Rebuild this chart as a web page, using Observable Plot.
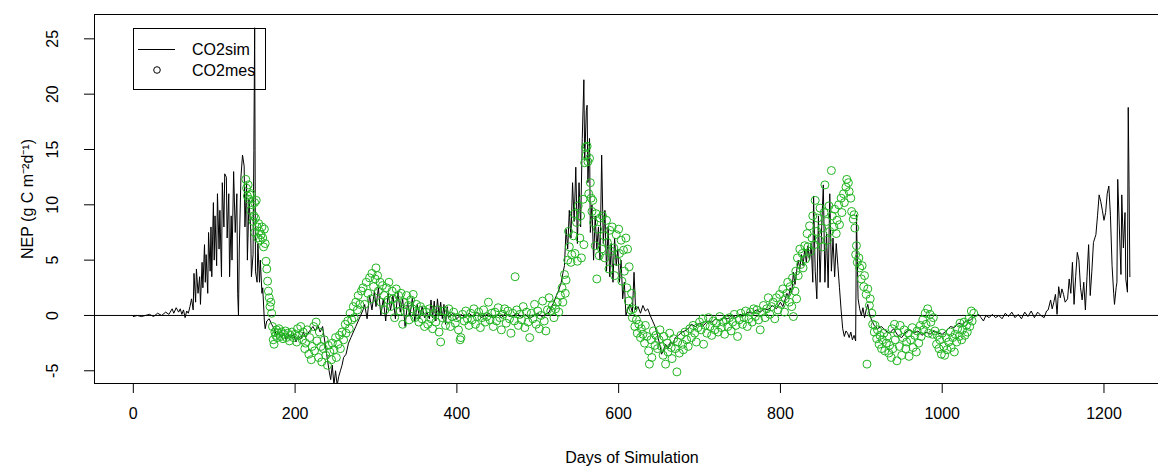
<!DOCTYPE html>
<html><head><meta charset="utf-8">
<script src="https://cdn.jsdelivr.net/npm/d3@7"></script>
<script src="https://cdn.jsdelivr.net/npm/@observablehq/plot@0.6"></script>
<style>
html,body{margin:0;padding:0;background:#fff;overflow:hidden;width:1158px;height:466px;}
#wrap{position:relative;width:1170px;height:466px;}
</style></head><body><div id="wrap"></div>
<script>
// Simulated NEP (CO2sim): [day, value]
const co2sim = [[0,-0.1],[5,0],[10,-0.1],[15,0],[20,0.1],[25,-0.1],[30,0.2],[35,0],[40,0.3],[44,0.1],[48,0.6],[50,0.2],[53,0.7],[56,0.3],[58,0.6],[60,0.1],[62,0.5],[64,-0.2],[66,0.4],[68,0.2],[70,0.8],
[72,1.5],[74,0.5],[75,3.8],[77,1.2],[78,4.2],[80,2.0],[82,3.5],[83,1.0],[85,4.8],[86,2.5],[88,6.4],[89,3.0],[90,5.5],[92,2.0],[93,7.5],[95,4.0],[96,8.0],[97,3.5],[99,10.2],[100,5.0],[101,9.0],[103,4.5],[104,11.0],[106,6.0],[107,9.5],[109,3.5],[110,12.0],[112,8.0],[113,12.8],[115,12.5],[116,7.0],[118,11.0],[119,3.5],[121,9.0],[122,5.0],[124,13.0],[126,7.5],[128,11.0],[129,2.0],[130,0.0],[131,6.0],[133,12.5],[135,14.5],[137,13.5],[138,8.0],[140,12.0],[141,5.0],[143,10.5],[145,8.0],[146,3.5],[148,5.5],[149,14.9],[150,26.0],[151,4.0],[153,3.0],[154,6.5],[156,3.0],[157,5.0],[159,2.0],[160,2.5],[162,-0.5],[163,-1.2],[165,-0.5],[168,-0.3],[171,-0.8],[174,-1.2],[177,-1.8],[180,-1.5],[183,-2.0],[186,-1.6],[189,-2.2],[192,-1.8],[195,-2.0],[198,-1.7],[201,-2.4],[204,-1.9],[207,-2.1],[210,-1.5],[213,-2.0],[216,-1.6],[219,-1.3],[222,-1.0],[225,-1.4],[228,-0.9],[231,-1.5],[234,-1.0],[237,-2.5],[240,-4.0],[242,-5.0],[244,-5.8],[246,-4.5],[248,-6.3],[250,-5.0],[252,-6.3],[254,-5.5],[256,-5.0],[258,-4.5],[260,-3.8],[263,-3.5],[266,-2.5],[269,-2.0],[272,-1.5],[275,-1.0],[278,-0.5],[281,0.0],[284,0.5],
[286,1.0],[289,-0.3],[292,1.8],[295,0.5],[298,2.2],[300,0.8],[303,2.5],[306,0.0],[309,1.5],[312,-0.5],[315,2.0],[318,0.5],[321,1.8],[324,-0.3],[327,2.2],[330,0.3],[333,1.5],[336,-1.0],[339,1.2],[342,0.0],[345,1.6],[348,-0.5],[351,1.0],[354,-0.3],[357,0.8],[360,-0.2],
[363,0.3],[366,-0.3],[368,1.4],[370,-0.2],[372,1.3],[374,-0.5],[376,1.5],[378,0.0],[380,1.2],[382,-0.3],[384,1.0],[386,-0.8],[388,0.8],[390,-0.2],[395,0.2],[400,-0.3],[405,0.1],[410,-0.2],[415,0.2],[420,-0.1],[425,0.3],[430,-0.2],[435,0.0],[440,0.2],[445,-0.3],[450,0.1],[455,-0.2],[460,0.2],[465,-0.1],[470,0.0],[475,0.2],[480,-0.2],[485,0.1],[490,-0.3],[495,0.0],[500,0.2],[505,-0.1],[510,0.1],
[514,0.3],[517,0.8],[520,1.2],[523,1.8],[526,2.3],[529,3.0],[531,3.8],[533,4.5],[535,7.8],[537,6.0],[539,9.5],[541,7.0],[543,12.0],[545,8.5],[547,13.4],[549,6.5],[551,12.0],[553,8.0],[555,16.0],[557,21.3],[558,14.0],[560,18.5],[561,19.0],[562,12.0],[564,16.0],[565,7.5],[567,10.0],[569,5.0],[571,9.0],[573,6.0],[575,8.0],[577,5.0],[579,14.5],[581,6.5],[583,9.5],[585,4.0],[587,8.0],[589,3.5],[591,6.5],[593,3.0],[595,7.0],[597,4.5],[599,6.0],[601,3.0],[603,5.0],[605,1.5],[607,3.0],[609,0.0],
[611,0.5],[614,1.0],[617,0.3],[619,3.9],[621,0.5],[624,0.8],[627,0.2],[630,0.9],[633,0.4],[636,0.6],[639,0.0],[642,-0.5],[645,-1.0],[648,-1.8],[651,-2.7],[653,-3.5],[655,-3.2],[658,-2.6],[661,-3.0],[664,-2.4],[667,-2.6],[670,-2.0],[674,-1.8],[678,-1.5],[682,-1.4],[686,-1.2],[690,-0.8],
[695,-1.0],[700,-0.7],[705,-0.9],[710,-0.5],[715,-0.6],[720,-0.3],[725,-0.5],[730,-0.2],[735,-0.3],[740,0.0],[745,-0.2],[750,0.1],[755,0.0],[760,0.3],[765,0.2],[770,0.5],[775,0.3],[780,0.6],[785,0.5],[790,0.9],[795,0.6],[800,1.2],[803,0.8],[806,1.5],
[808,2.0],[810,1.6],[812,2.5],[814,2.0],[816,3.9],[818,2.8],[820,4.0],[822,5.0],[824,4.2],[826,5.5],[828,4.5],[830,6.0],[832,4.8],[834,6.3],[836,5.0],[838,6.5],[840,3.0],[841,10.8],[843,4.0],[845,1.5],[847,9.0],[849,3.0],[851,8.0],[853,11.8],[855,3.0],[857,7.5],[859,2.5],[861,11.0],[863,4.0],[865,7.0],[867,3.5],[869,6.5],[871,4.5],[873,2.5],[875,0.5],[877,-1.2],[879,-1.9],[881,-1.4],[883,-1.6],[885,-2.0],[887,-1.5],[889,-2.2],[891,-1.8],[893,-2.3],[894,9.1],[896,1.5],[898,0.6],[900,0.0],[902,0.7],[904,-0.2],[906,0.5],[908,1.0],[910,0.2],[913,-0.5],[916,-0.9],[920,-1.2],[925,-1.0],[930,-1.4],[935,-1.6],[940,-1.2],
[945,-1.8],[950,-2.0],[955,-1.5],[960,-1.3],[965,-1.6],[970,-1.4],[975,-1.8],[980,-1.5],[985,-1.7],[990,-1.4],[995,-1.6],[1000,-1.7],[1005,-1.4],[1010,-1.0],[1015,-1.1],[1020,-0.7],[1025,-0.8],[1030,-0.5],[1035,-0.4],[1040,-0.1],
[1045,0.1],[1048,-0.2],[1051,-0.5],[1054,0.0],[1058,-0.2],[1062,0.1],[1066,-0.2],[1070,0.0],[1074,-0.3],[1078,0.2],[1082,-0.1],[1086,0.3],[1090,-0.2],[1094,0.1],[1098,-0.3],[1102,0.3],[1106,-0.1],[1110,0.4],[1114,-0.2],[1118,0.3],[1122,0.0],[1126,-0.2],[1129,0.4],
[1131,0.5],[1134,1.4],[1136,0.6],[1138,1.2],[1140,1.9],[1142,0.1],[1144,2.6],[1146,1.6],[1148,2.4],[1150,1.9],[1152,1.2],[1155,1.5],[1157,3.3],[1159,2.0],[1161,4.8],[1163,1.0],[1165,3.5],[1167,5.7],[1169,5.0],[1171,2.5],[1173,1.4],[1175,3.0],[1177,0.5],[1179,3.5],[1181,6.4],[1183,1.8],[1185,4.0],[1187,6.6],[1190,7.3],[1192,9.0],[1194,10.9],[1196,10.3],[1198,9.5],[1200,8.6],[1202,9.3],[1204,11.0],[1206,11.7],[1208,9.0],[1210,4.5],[1212,2.0],[1213,1.0],[1215,2.5],[1216,3.0],[1217,12.3],[1219,7.9],[1221,3.7],[1222,10.9],[1224,6.1],[1226,9.3],[1227,3.3],[1229,2.1],[1230,18.8],[1231,11.8],[1232,3.5]];

// Measured NEP (CO2mes): [day, value]
const co2mes = [[139,12.3],[140,11.5],[141,10.8],[142,11.8],[143,10.5],[144,10.9],[145,9.5],[146,11.0],[147,10.0],[148,8.5],[149,9.0],[150,10.2],[150,7.5],[151,8.8],[152,10.4],[153,8.0],[154,7.0],[155,8.3],[156,7.6],[157,6.8],[158,7.3],[159,8.0],[160,7.0],[161,6.2],[162,7.8],[163,6.5],[164,4.9],[165,4.2],[166,3.1],[167,2.2],[168,1.6],[169,0.8],[170,1.2],[171,0.2],
[172,-1.0],[173,-2.2],[174,-2.6],[175,-1.5],[176,-1.8],[177,-1.3],[178,-2.0],[179,-1.6],[180,-1.2],[182,-1.9],[183,-1.5],[185,-2.1],[186,-1.7],[188,-1.4],[189,-2.0],[191,-1.6],[193,-2.3],[194,-1.8],[196,-1.5],[198,-2.0],[200,-1.7],[202,-2.4],[203,-1.2],[205,-1.8],[207,-1.0],[209,-2.2],[210,-1.5],[212,-3.0],[213,-2.5],[215,-1.3],[217,-3.5],[218,-2.0],[220,-4.0],[221,-2.8],[223,-1.0],[224,-3.2],[226,-0.6],[227,-2.3],[229,-3.8],[230,-1.5],[232,-2.8],[233,-4.2],[235,-3.0],[236,-2.2],[238,-3.6],[240,-4.5],[241,-2.7],[243,-3.3],[245,-4.0],[246,-2.5],[248,-3.1],[250,-2.0],[251,-3.8],[253,-2.6],[255,-1.8],[256,-3.0],[258,-1.5],[260,-2.2],[262,-0.8],[263,-1.6],[265,-0.5],[267,-1.2],[268,0.2],[270,-0.4],[272,0.8],[273,-0.2],[275,1.2],[277,0.5],[278,1.8],[280,1.0],[282,2.2],
[284,2.5],[286,1.0],[288,3.0],[290,2.0],[292,3.4],[294,1.5],[295,3.8],[297,2.6],[299,3.3],[300,4.3],[302,3.6],[303,2.2],[305,3.0],[306,1.2],[308,2.7],[310,1.8],[311,0.5],[313,2.5],[315,1.4],[316,3.0],[318,0.8],[320,2.2],[321,1.5],[323,-0.2],[325,2.4],[326,1.0],[328,1.8],[330,0.4],[331,2.0],[333,-0.8],[335,1.2],[336,0.3],[338,1.8],[340,0.9],[341,-0.4],[343,1.4],[345,0.6],[346,1.9],[348,-0.2],[350,1.0],[351,0.2],[353,-0.6],[355,0.8],[357,-0.3],[358,0.5],[360,-1.0],
[362,0.3],[364,-0.8],[366,0.6],[368,-0.3],[370,-1.2],[372,0.2],[374,-0.6],[376,0.5],[378,-1.5],[380,-2.4],[382,-0.2],[384,0.4],[386,-0.9],[388,-0.3],[390,0.6],[392,-1.0],[394,-0.1],[396,0.3],[398,-0.7],[400,-0.2],[402,-1.3],[404,-2.2],[405,-2.0],[407,0.1],[409,-0.5],[411,0.4],[413,-0.3],[415,-0.9],[417,0.2],[419,-0.4],[421,0.6],[423,-0.8],[425,-0.1],[427,0.3],[429,-1.1],[431,-0.2],[433,0.5],[435,-0.6],[437,-0.1],[439,1.2],[441,-0.4],[443,0.2],[445,-1.0],[447,0.3],[449,-0.5],[451,0.7],[453,-0.2],[455,-1.3],[457,0.1],[459,0.6],[461,-0.7],[463,0.4],[465,-0.3],[467,-1.6],[469,0.2],[471,-0.5],[472,3.5],[474,0.5],[476,-0.9],[478,0.1],[480,-0.4],[482,0.8],[484,-1.1],[486,0.3],[488,-0.6],[490,-2.0],[492,0.2],[494,-0.3],[496,1.0],[498,-0.8],[500,0.4],[502,-1.2],[504,0.0],[506,1.3],[508,-0.5],[510,-1.4],[512,0.5],
[514,1.6],[516,0.4],[518,0.9],[520,-0.2],[522,0.6],[524,1.2],[526,0.3],[528,1.8],[530,2.5],[531,1.2],[533,3.7],[534,2.0],[535,3.2],[537,5.0],[538,7.6],[539,6.2],[541,4.8],[542,5.5],[544,7.2],[545,9.2],[546,5.6],[548,8.4],[549,4.9],[550,9.9],[552,7.0],[553,9.0],[554,5.2],[556,10.5],[557,6.4],[558,13.8],[559,15.2],[560,14.5],[561,15.3],[562,13.9],[563,11.0],[564,14.2],[565,12.0],[566,10.6],[567,9.4],[568,10.4],[569,8.4],[571,6.3],[572,9.2],[573,3.3],[574,7.8],[576,5.4],[577,8.8],[579,6.0],[580,9.0],[582,7.2],[583,5.2],[585,8.6],[586,6.6],[588,4.2],[589,7.7],[591,5.8],[592,8.0],[594,6.1],[595,3.6],[597,7.3],[598,4.9],[600,7.8],[601,5.6],[603,6.8],[604,3.1],[606,5.9],[607,4.0],[609,7.0],[610,2.5],[611,6.0],[612,1.3],[613,4.4],[615,0.5],[616,2.0],
[617,-0.2],[618,0.6],[620,-1.0],[622,-0.4],[623,-1.6],[625,-0.8],[627,-2.0],[628,-1.2],[630,-1.7],[632,-2.5],[633,-0.9],[635,-1.9],[637,-3.2],[638,-4.4],[640,-2.2],[641,-3.8],[643,-1.4],[645,-2.7],[646,-1.8],[648,-3.0],[650,-2.2],[651,-1.3],[653,-2.8],[655,-3.6],[656,-1.9],[658,-4.4],[660,-2.5],[661,-3.3],[663,-1.6],[665,-2.9],[666,-3.9],[668,-2.1],[670,-3.0],[672,-5.1],[673,-2.4],[675,-3.4],[677,-1.8],[679,-2.6],[680,-3.1],[682,-1.5],[684,-2.2],[686,-2.8],[688,-1.2],[690,-2.0],[692,-0.9],[694,-1.6],[696,-2.4],[698,-1.1],[700,-0.6],
[702,-1.3],[704,-0.3],[705,-2.6],[707,-0.9],[709,-1.6],[711,-0.2],[713,-1.0],[715,-1.8],[717,-0.5],[719,-1.3],[721,-0.7],[723,-1.5],[725,-0.1],[727,-1.1],[729,-0.6],[731,-1.7],[733,-0.4],[735,-1.0],[737,-0.2],[739,-1.4],[741,-0.6],[743,0.1],[745,-0.9],[747,-1.9],[749,-0.4],[751,0.2],[753,-0.8],[755,-0.2],[757,0.4],[759,-1.0],[761,-0.3],[763,0.3],[765,-0.6],[767,0.6],[769,-0.1],[771,0.5],[773,-0.4],[775,-1.3],[777,0.3],[779,0.9],[781,-0.2],[783,0.6],[785,1.6],[787,0.1],[789,0.8],[791,1.2],[793,-0.3],[795,1.6],[797,0.5],[799,1.9],[801,1.0],[803,2.4],[805,0.3],[806,1.5],
[808,2.0],[809,3.0],[811,1.2],[812,2.6],[814,0.8],[815,3.4],[816,-0.1],[818,2.2],[819,4.0],[820,1.5],[821,5.2],[822,3.6],[824,6.0],[825,4.6],[827,5.6],[828,4.3],[830,6.3],[831,5.1],[833,7.4],[834,6.2],[836,8.1],[837,5.8],[839,7.0],[840,9.0],[842,6.4],[843,10.4],[845,7.6],[846,8.8],[848,6.8],[849,9.7],[851,7.9],[852,6.2],[854,9.3],[855,11.8],[857,8.5],[858,6.8],[860,9.9],[861,7.6],[863,13.1],[864,9.0],[866,8.0],[867,9.6],[869,7.4],[870,8.6],[872,10.0],[873,8.2],[875,10.6],[876,9.3],[878,11.0],[879,10.2],[881,11.6],[882,12.3],[884,12.0],[885,11.2],[887,10.6],[888,9.4],[890,8.7],[891,9.1],[892,7.9],[893,5.5],[894,6.3],[895,4.8],[897,5.2],[898,4.3],[900,3.3],[901,4.5],[903,2.6],[904,3.6],[906,1.9],[907,-4.4],[908,2.4],[910,0.9],[911,1.5],[913,0.2],[914,-0.8],[916,-1.5],[917,-0.9],[919,-2.1],[920,-1.3],[922,-2.6],[923,-1.8],[925,-3.0],[926,-2.2],[928,-1.6],[929,-3.2],[931,-2.5],[932,-1.9],[934,-3.4],[935,-2.7],[937,-3.8],
[938,-1.2],[939,-3.0],[941,-0.8],[942,-2.2],[944,-4.1],[945,-1.6],[947,-2.8],[948,-0.9],[950,-3.6],[951,-2.0],[953,-1.3],[955,-3.0],[956,-2.4],[958,-1.6],[959,-3.7],[961,-2.2],[963,-1.1],[964,-2.9],[966,-1.8],[968,-3.3],[969,-1.4],[971,-2.5],[973,-0.9],[974,-1.9],[976,-0.4],[977,-1.3],[979,0.2],[980,-0.8],[982,0.6],[983,-1.6],[985,0.1],[986,-0.6],[988,-1.7],[989,-0.2],[991,-1.4],[993,-2.6],[994,-1.8],[996,-3.0],[997,-2.2],[999,-3.5],[1000,-1.6],[1002,-2.8],[1003,-3.6],[1005,-2.0],[1006,-3.1],[1008,-2.4],[1010,-1.5],[1011,-2.9],[1013,-2.0],[1015,-3.3],[1016,-1.7],[1018,-2.4],[1019,-1.2],[1021,-1.9],[1022,-0.7],[1024,-2.2],[1025,-1.3],[1027,-0.6],[1028,-1.8],[1030,-0.9],[1031,-1.5],[1033,-0.3],[1034,-1.0],[1036,0.4],[1037,-0.5],[1039,0.2]];

const xTicks = [0, 200, 400, 600, 800, 1000, 1200];
const yTicks = [-5, 0, 5, 10, 15, 20, 25];
const seriesNames = ["CO2sim", "CO2mes"];
const xLabel = "Days of Simulation";
const yLabel = "NEP (g C m\u207B\u00B2d\u207B\u00B9)";

const sim = co2sim.map(([day, val]) => ({day, val}));
const mes = co2mes.map(([day, val]) => ({day, val}));

const font = "'Liberation Sans', Arial, Helvetica, sans-serif";
const chart = Plot.plot({
  width: 1170,
  height: 466,
  marginLeft: 94,
  marginRight: 1,
  marginTop: 14,
  marginBottom: 83,
  style: {fontFamily: font, fontSize: "16px", color: "#000", background: "#fff", overflow: "visible"},
  x: {domain: [-48, 1281]},
  y: {domain: [-6.15, 27.2]},
  marks: [
    Plot.ruleY([0], {stroke: "#000", strokeWidth: 1}),
    Plot.lineY(sim, {x: "day", y: "val", stroke: "#000", strokeWidth: 1, clip: true}),
    Plot.dot(mes, {x: "day", y: "val", r: 4, stroke: "#22B522", strokeWidth: 1, fill: "none"}),
    Plot.frame({stroke: "#000", strokeWidth: 1}),
    Plot.axisX({ticks: xTicks, tickSize: 10, tickPadding: 14, tickFormat: d => String(d), label: xLabel, labelAnchor: "center", labelArrow: "none", labelOffset: 79, fontSize: 16}),
    Plot.axisY({ticks: yTicks, tickSize: 10, tickPadding: 27, tickRotate: -90, tickFormat: d => String(d), label: yLabel, labelAnchor: "center", labelArrow: "none", labelOffset: 73, fontSize: 16})
  ]
});
document.getElementById("wrap").appendChild(chart);

// Legend (inside plot area, top-left)
const svg = d3.select(chart);
const lg = svg.append("g").attr("font-family", font).attr("font-size", 16).attr("text-anchor", "start");
lg.append("rect").attr("x", 133.5).attr("y", 28.5).attr("width", 132).attr("height", 61)
  .attr("fill", "none").attr("stroke", "#000");
lg.append("line").attr("x1", 138).attr("x2", 175).attr("y1", 49.5).attr("y2", 49.5).attr("stroke", "#000");
lg.append("circle").attr("cx", 157).attr("cy", 70).attr("r", 3.3).attr("fill", "none").attr("stroke", "#000");
lg.selectAll("text.lbl").data(seriesNames).join("text").attr("class", "lbl")
  .attr("x", 192).attr("y", (d, i) => 49 + i * 21).attr("dy", "0.35em").attr("text-anchor", "start").attr("fill", "#000").text(d => d);
</script></body></html>
